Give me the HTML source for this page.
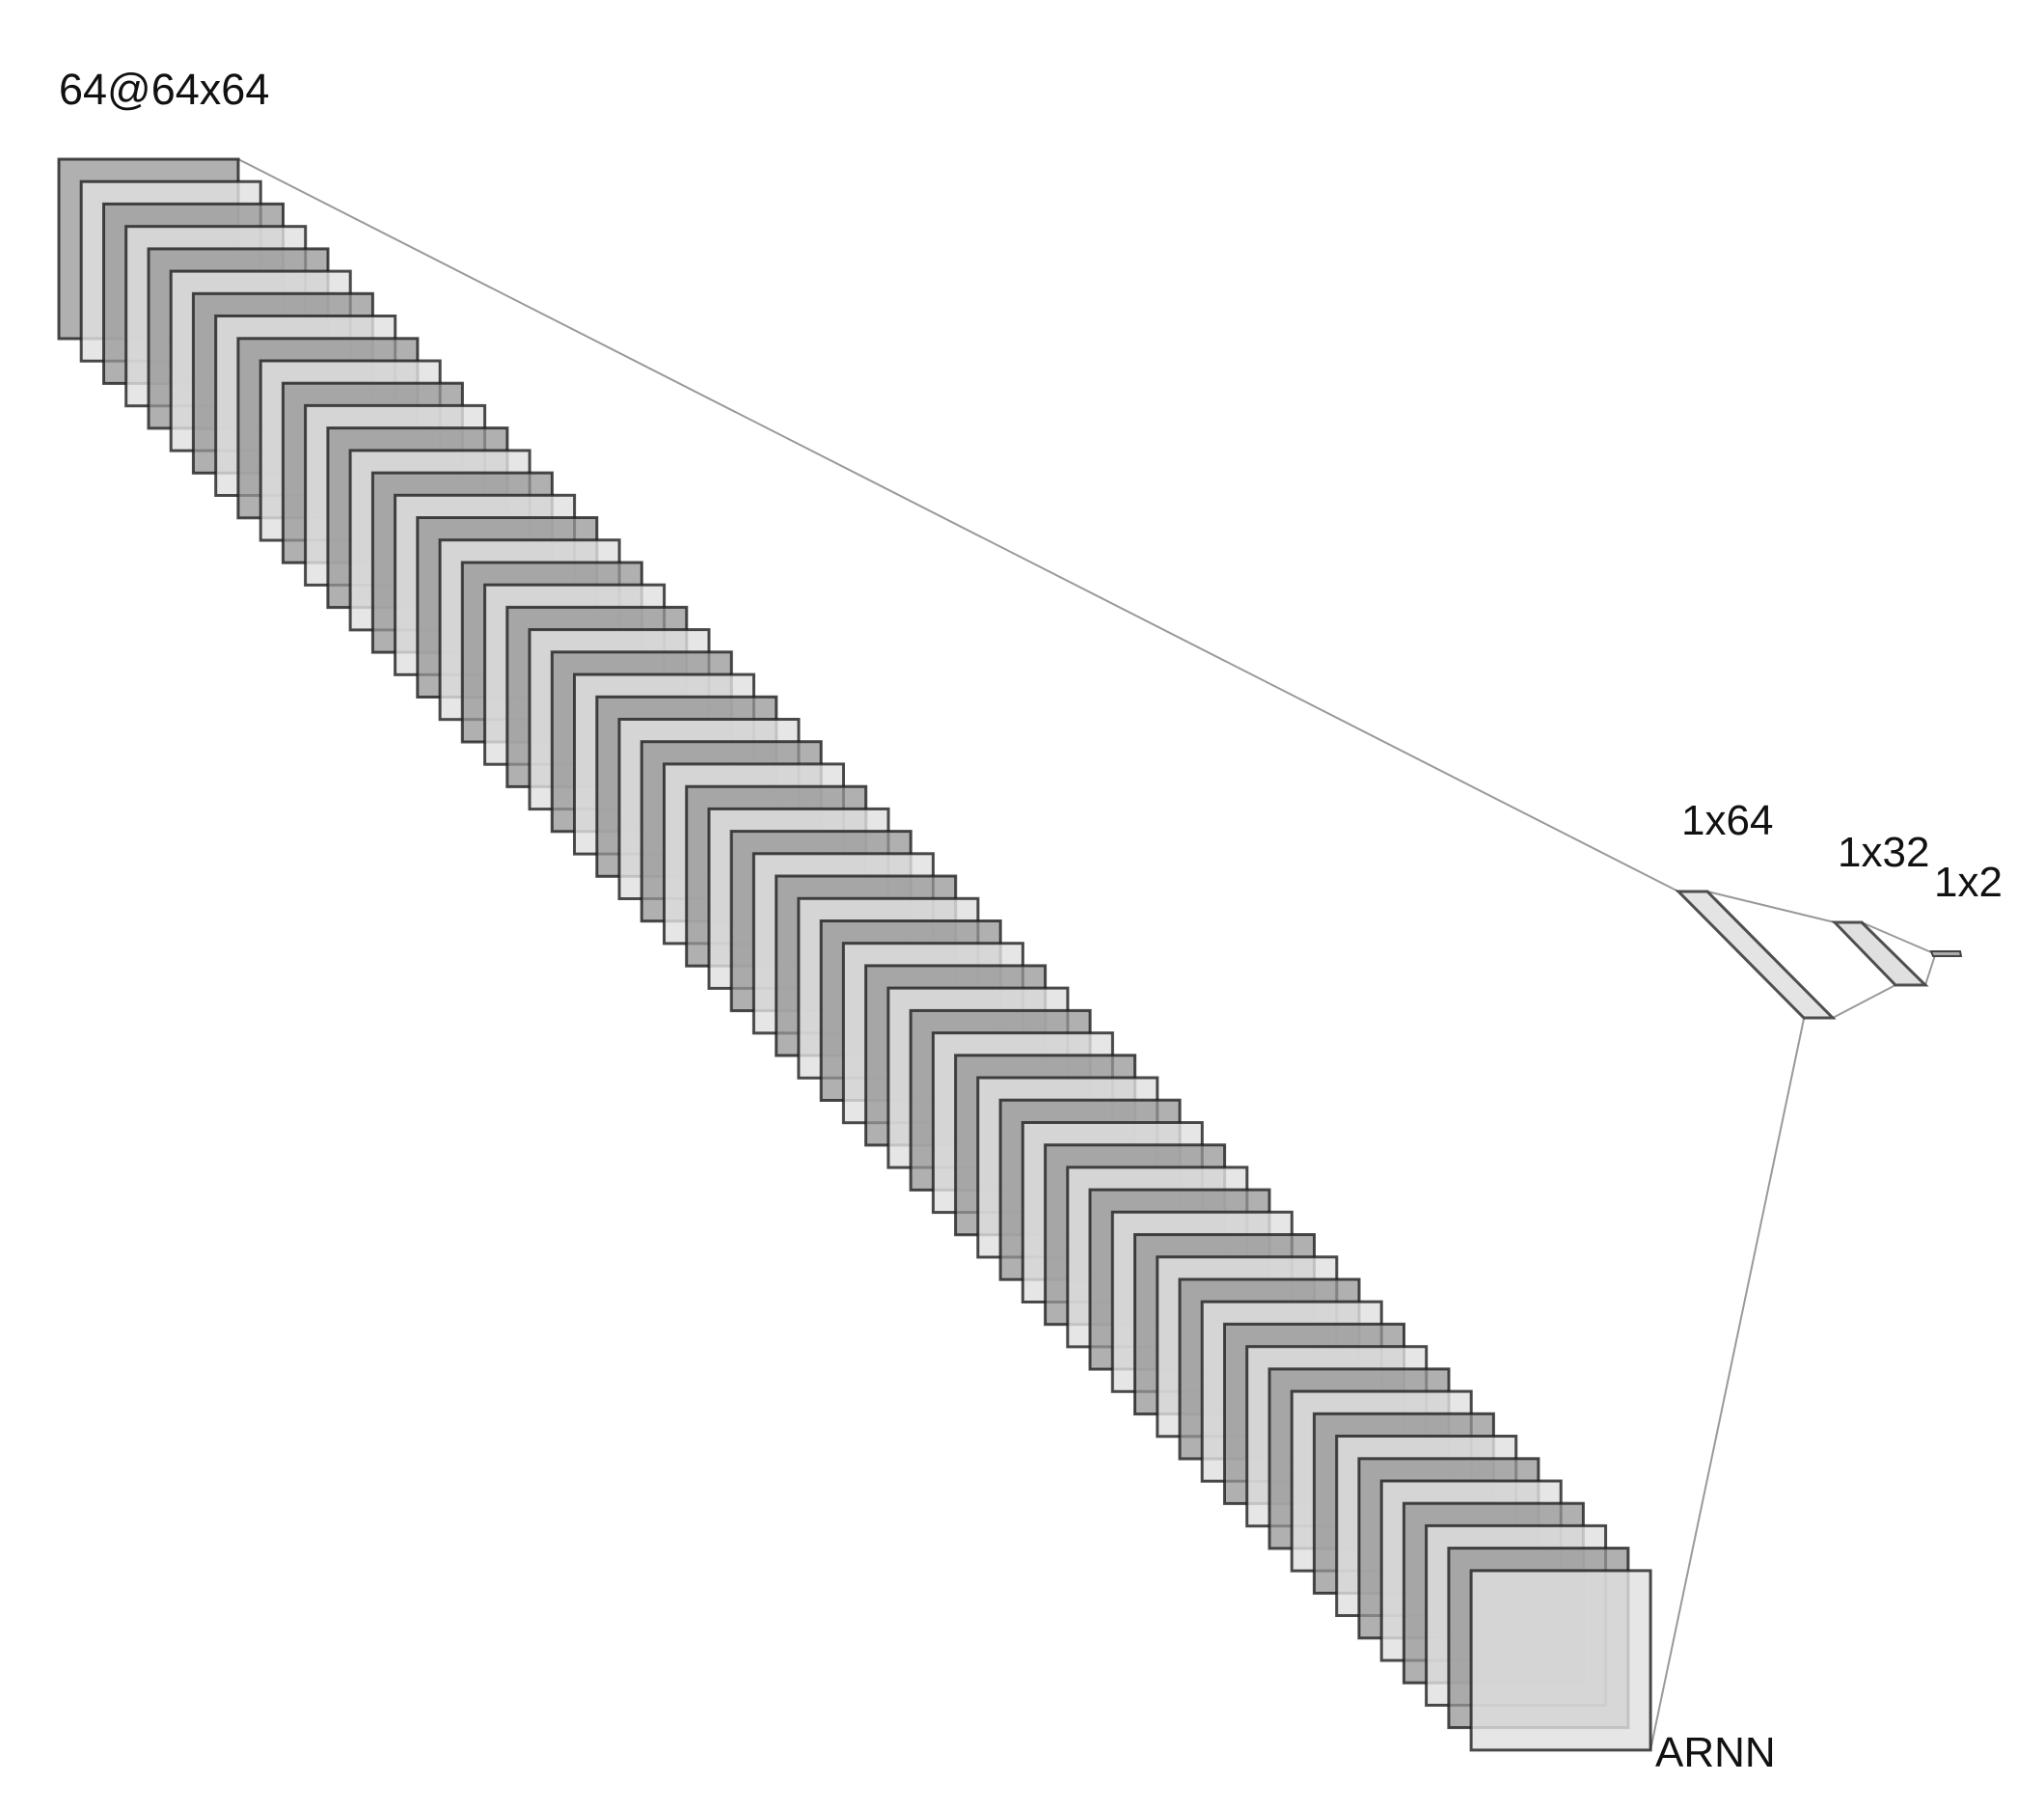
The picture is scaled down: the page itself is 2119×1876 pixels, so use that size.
<!DOCTYPE html>
<html><head><meta charset="utf-8"><style>
html,body{margin:0;padding:0;background:#fff;}
svg{display:block;}
text{font-family:"Liberation Sans",sans-serif;fill:#111;}
</style></head><body>
<svg width="2119" height="1876" viewBox="0 0 2119 1876" xmlns="http://www.w3.org/2000/svg">
<defs>
<rect id="d" width="186" height="186" fill="rgb(150,150,150)" fill-opacity="0.75" stroke="rgb(30,30,30)" stroke-opacity="0.8" stroke-width="3"/>
<rect id="l" width="186" height="186" fill="rgb(224,224,224)" fill-opacity="0.81" stroke="rgb(30,30,30)" stroke-opacity="0.8" stroke-width="3"/>
</defs>
<g stroke="#999" stroke-width="2" fill="none">
<line x1="247" y1="165" x2="1740" y2="924"/>
<line x1="1870" y1="1056" x2="1711" y2="1814"/>
<line x1="1770" y1="924" x2="1902" y2="956"/>
<line x1="1900" y1="1055" x2="1965" y2="1021"/>
<line x1="1930" y1="956" x2="2002" y2="987"/>
<line x1="1996" y1="1021" x2="2006" y2="990"/>
</g>
<use href="#d" x="61" y="165"/>
<use href="#l" x="84.2" y="188.2"/>
<use href="#d" x="107.5" y="211.4"/>
<use href="#l" x="130.7" y="234.7"/>
<use href="#d" x="154" y="257.9"/>
<use href="#l" x="177.2" y="281.1"/>
<use href="#d" x="200.4" y="304.3"/>
<use href="#l" x="223.7" y="327.5"/>
<use href="#d" x="246.9" y="350.8"/>
<use href="#l" x="270.2" y="374"/>
<use href="#d" x="293.4" y="397.2"/>
<use href="#l" x="316.6" y="420.4"/>
<use href="#d" x="339.9" y="443.6"/>
<use href="#l" x="363.1" y="466.9"/>
<use href="#d" x="386.4" y="490.1"/>
<use href="#l" x="409.6" y="513.3"/>
<use href="#d" x="432.8" y="536.5"/>
<use href="#l" x="456.1" y="559.7"/>
<use href="#d" x="479.3" y="583"/>
<use href="#l" x="502.6" y="606.2"/>
<use href="#d" x="525.8" y="629.4"/>
<use href="#l" x="549" y="652.6"/>
<use href="#d" x="572.3" y="675.8"/>
<use href="#l" x="595.5" y="699.1"/>
<use href="#d" x="618.8" y="722.3"/>
<use href="#l" x="642" y="745.5"/>
<use href="#d" x="665.2" y="768.7"/>
<use href="#l" x="688.5" y="791.9"/>
<use href="#d" x="711.7" y="815.2"/>
<use href="#l" x="735" y="838.4"/>
<use href="#d" x="758.2" y="861.6"/>
<use href="#l" x="781.4" y="884.8"/>
<use href="#d" x="804.7" y="908"/>
<use href="#l" x="827.9" y="931.3"/>
<use href="#d" x="851.2" y="954.5"/>
<use href="#l" x="874.4" y="977.7"/>
<use href="#d" x="897.6" y="1000.9"/>
<use href="#l" x="920.9" y="1024.1"/>
<use href="#d" x="944.1" y="1047.4"/>
<use href="#l" x="967.4" y="1070.6"/>
<use href="#d" x="990.6" y="1093.8"/>
<use href="#l" x="1013.8" y="1117"/>
<use href="#d" x="1037.1" y="1140.2"/>
<use href="#l" x="1060.3" y="1163.5"/>
<use href="#d" x="1083.6" y="1186.7"/>
<use href="#l" x="1106.8" y="1209.9"/>
<use href="#d" x="1130" y="1233.1"/>
<use href="#l" x="1153.3" y="1256.3"/>
<use href="#d" x="1176.5" y="1279.6"/>
<use href="#l" x="1199.8" y="1302.8"/>
<use href="#d" x="1223" y="1326"/>
<use href="#l" x="1246.2" y="1349.2"/>
<use href="#d" x="1269.5" y="1372.4"/>
<use href="#l" x="1292.7" y="1395.7"/>
<use href="#d" x="1316" y="1418.9"/>
<use href="#l" x="1339.2" y="1442.1"/>
<use href="#d" x="1362.4" y="1465.3"/>
<use href="#l" x="1385.7" y="1488.5"/>
<use href="#d" x="1408.9" y="1511.8"/>
<use href="#l" x="1432.2" y="1535"/>
<use href="#d" x="1455.4" y="1558.2"/>
<use href="#l" x="1478.6" y="1581.4"/>
<use href="#d" x="1501.9" y="1604.6"/>
<use href="#l" x="1525.1" y="1627.9"/>
<polygon points="1740,924 1770,924 1900,1055 1870,1055" fill="#e4e4e4" stroke="#333" stroke-width="3" stroke-opacity="0.85"/>
<polygon points="1902,956 1930,956 1996,1021 1965,1021" fill="#e0e0e0" stroke="#333" stroke-width="3" stroke-opacity="0.85"/>
<polygon points="2002,986 2032,986 2033,991 2004,991" fill="#aaa" stroke="#444" stroke-width="2"/>
<text x="61" y="108" font-size="45">64@64x64</text>
<text x="1743" y="865" font-size="44">1x64</text>
<text x="1905" y="898" font-size="44">1x32</text>
<text x="2005" y="929" font-size="44">1x2</text>
<text x="1716" y="1831" font-size="44">ARNN</text>
</svg>
</body></html>
